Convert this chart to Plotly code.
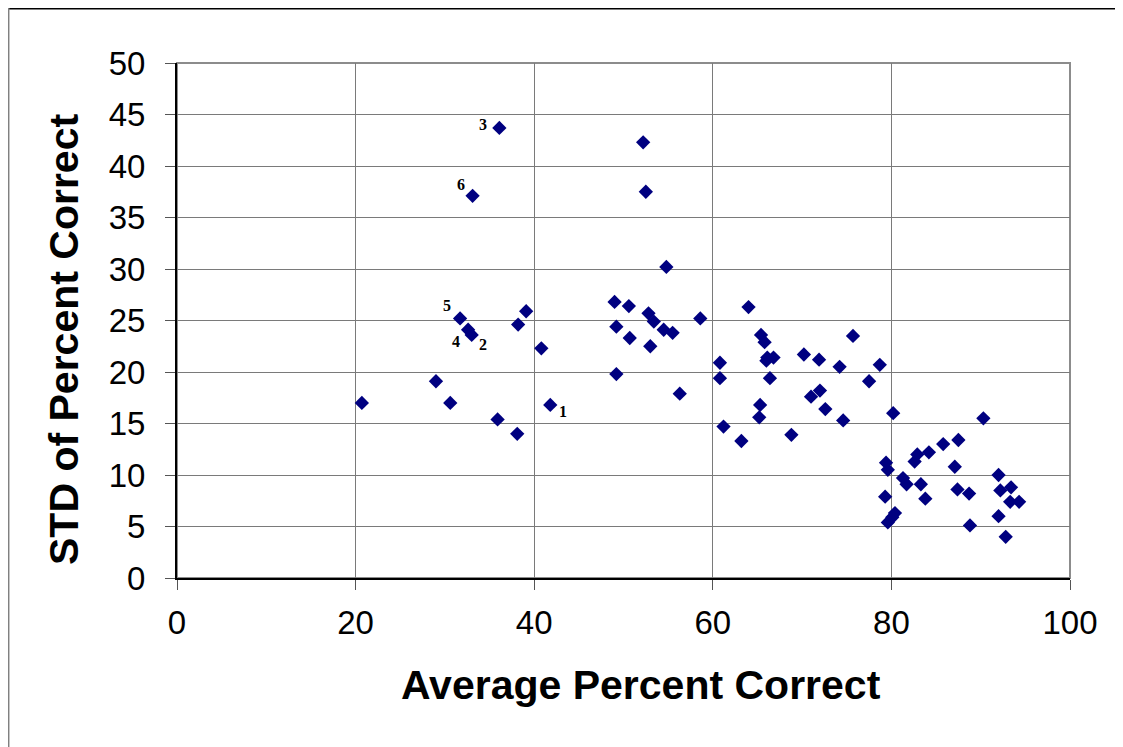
import plotly.graph_objects as go

avg_pct = [20.7, 29.0, 30.6, 31.7, 32.6, 33.0, 35.9, 38.1, 38.2, 39.1, 40.8, 41.8,
           33.1, 36.1, 52.2, 52.5, 54.8, 49.0, 50.6, 52.8, 53.4, 54.5, 55.5, 58.6,
           49.2, 50.7, 53.0, 49.2, 56.3, 64.0, 65.4, 65.8, 66.1, 66.8, 66.0, 66.4,
           60.8, 60.8, 65.3, 65.2, 61.2, 63.2, 70.2, 71.9, 75.7, 74.2, 78.7, 77.5,
           71.0, 72.0, 72.6, 74.6, 68.8, 80.2, 90.3, 87.5, 85.8, 84.2, 82.9, 82.6,
           79.4, 79.6, 87.1, 81.3, 81.7, 83.3, 83.8, 79.3, 87.4, 88.7, 92.0, 92.2,
           93.4, 93.3, 94.3, 92.0, 88.8, 92.8, 80.4, 80.1, 79.6]
std_pct = [17.0, 19.1, 17.0, 25.2, 24.1, 23.6, 15.4, 14.0, 24.6, 25.9, 22.3, 16.8,
           37.1, 43.7, 42.3, 37.5, 30.2, 26.8, 26.4, 25.7, 24.9, 24.1, 23.8, 25.2,
           24.4, 23.3, 22.5, 19.8, 17.9, 26.3, 23.6, 22.9, 21.4, 21.4, 21.1, 19.4,
           20.9, 19.4, 16.8, 15.6, 14.7, 13.3, 21.7, 21.2, 23.5, 20.5, 20.7, 19.1,
           17.6, 18.2, 16.4, 15.3, 13.9, 16.0, 15.5, 13.4, 13.0, 12.2, 12.0, 11.3,
           11.2, 10.5, 10.8, 9.7, 9.1, 9.1, 7.7, 7.9, 8.6, 8.2, 10.0, 8.5,
           8.8, 7.4, 7.4, 6.0, 5.1, 4.0, 6.3, 5.9, 5.4]

# labelled points: label -> index into the arrays above
point_labels = {"1": 11, "2": 5, "3": 13, "4": 4, "5": 3, "6": 12}
# label offsets in pixels (dx, dy-up)
label_offsets = {"1": (13, -7), "2": (11, -10), "3": (-16, 3),
                 "4": (-12, -12), "5": (-13, 13), "6": (-12, 11)}

x_ticks = [0, 20, 40, 60, 80, 100]
y_ticks = [0, 5, 10, 15, 20, 25, 30, 35, 40, 45, 50]

fig = go.Figure()
fig.add_trace(go.Scatter(
    x=avg_pct, y=std_pct, mode="markers",
    marker=dict(symbol="diamond", size=11, color="#000080", line=dict(width=0)),
    showlegend=False, cliponaxis=False))

for lab, idx in point_labels.items():
    dx, dy = label_offsets[lab]
    fig.add_annotation(x=avg_pct[idx], y=std_pct[idx], text=lab, showarrow=False,
                       xshift=dx, yshift=dy,
                       font=dict(family="Liberation Serif", size=16, color="black", weight="bold"))

W, H = 1123, 747
OFF = 8  # page body offset
L, R, T, B = 177 - OFF, 53 + OFF, 63 - OFF, 169 + OFF
pw, ph = W - L - R, H - T - B

def px2paper_x(px):
    return (px - OFF - L) / pw

def px2paper_y(py):
    return (H - B - (py - OFF)) / ph

# outer frame lines
fig.add_shape(type="line", xref="paper", yref="paper",
              x0=px2paper_x(8), x1=px2paper_x(1131), y0=px2paper_y(8.7), y1=px2paper_y(8.7),
              line=dict(color="black", width=1.5))
fig.add_shape(type="line", xref="paper", yref="paper",
              x0=px2paper_x(8.7), x1=px2paper_x(8.7), y0=px2paper_y(8), y1=px2paper_y(760),
              line=dict(color="#808080", width=1.5))
# plot area border (gray)
fig.add_shape(type="rect", xref="paper", yref="paper", x0=0, x1=1, y0=0, y1=1,
              line=dict(color="#8c8c8c", width=2), layer="below")

fig.add_annotation(xref="paper", yref="paper", x=px2paper_x(641), y=px2paper_y(685),
                   text="Average Percent Correct", showarrow=False,
                   xanchor="center", yanchor="middle",
                   font=dict(family="Liberation Sans", size=41, color="black", weight="bold"))
fig.add_annotation(xref="paper", yref="paper", x=px2paper_x(64), y=px2paper_y(340),
                   text="STD of Percent Correct", showarrow=False, textangle=-90,
                   xanchor="center", yanchor="middle",
                   font=dict(family="Liberation Sans", size=41, color="black", weight="bold"))

axis_common = dict(showgrid=True, gridcolor="#7a7a7a", gridwidth=1,
                   showline=True, linecolor="black", linewidth=2,
                   ticks="outside", ticklen=10, tickcolor="#555555", tickwidth=1,
                   tickfont=dict(family="Liberation Sans", size=33, color="black"),
                   zeroline=False, fixedrange=True)

fig.update_xaxes(range=[0, 100], tickvals=x_ticks, ticktext=[str(v) for v in x_ticks],
                 ticklabelstandoff=4, **axis_common)
fig.update_yaxes(range=[0, 50], tickvals=y_ticks, ticktext=[str(v) for v in y_ticks],
                 ticklabelstandoff=13, **axis_common)

fig.update_layout(width=W, height=H, margin=dict(l=L, r=R, t=T, b=B),
                  paper_bgcolor="white", plot_bgcolor="white", showlegend=False)

fig.write_html("out.html")
